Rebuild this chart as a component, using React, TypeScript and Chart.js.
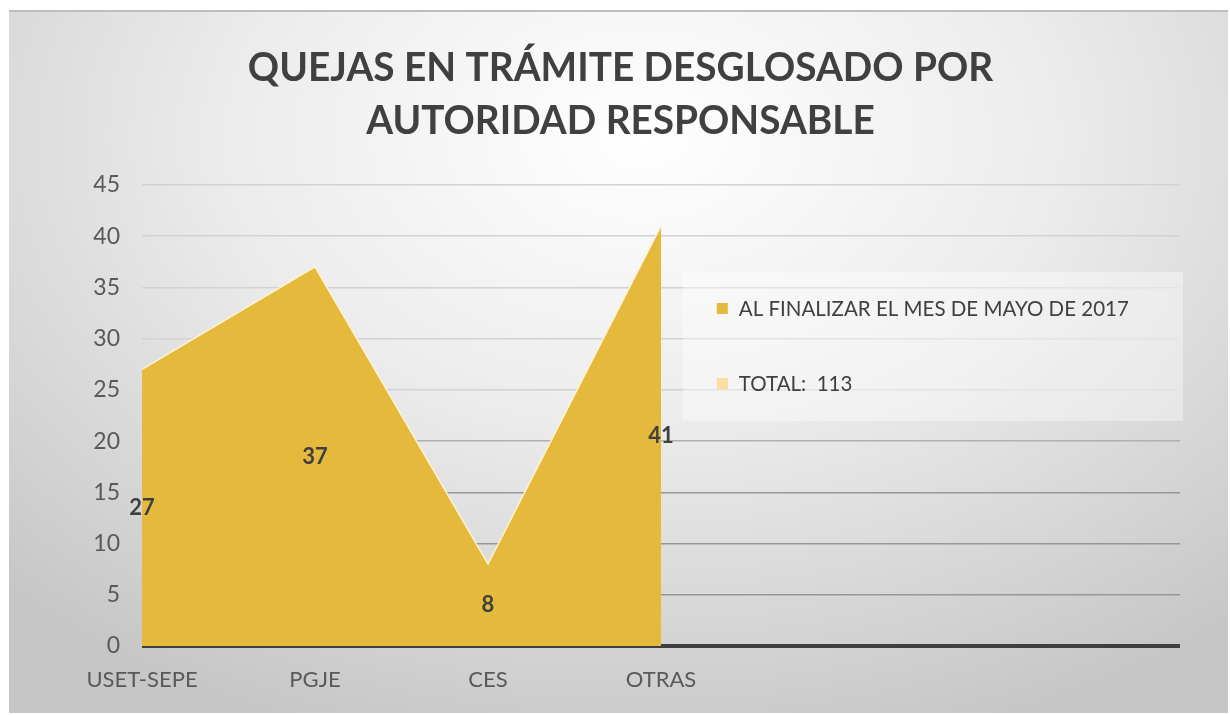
import React, { useEffect, useRef } from 'react';
import { Chart, registerables } from 'chart.js';

Chart.register(...registerables);

const categories = ['USET-SEPE', 'PGJE', 'CES', 'OTRAS', '', '', ''];
const quejas: (number | null)[] = [27, 37, 8, 41, null, null, null];
const totalSeries: (number | null)[] = [null, null, null, null, null, null, null];
const seriesLabel = 'AL FINALIZAR EL MES DE MAYO DE 2017';
const totalLabel = 'TOTAL:  113';
const titleLines = ['QUEJAS EN TRÁMITE DESGLOSADO POR', 'AUTORIDAD RESPONSABLE'];
const yMax = 45;
const yStep = 5;

const FONT = 'Lato, "Open Sans", sans-serif';
const GOLD = '#E5B93C';
const PEACH = '#FBDCA2';

const titlePlugin = {
  id: 'customTitle',
  afterDraw(chart: any) {
    const ctx = chart.ctx;
    ctx.save();
    ctx.fillStyle = '#404040';
    ctx.font = `bold 41px ${FONT}`;
    ctx.textAlign = 'center';
    ctx.textBaseline = 'middle';
    const cx = chart.width / 2 + 2;
    ctx.translate(cx, 0);
    ctx.scale(0.945, 1);
    ctx.fillText(titleLines[0], 0, 56);
    ctx.fillText(titleLines[1], 0, 109);
    ctx.restore();
  },
};

const dataLabelPlugin = {
  id: 'dataLabels',
  afterDatasetsDraw(chart: any) {
    const ctx = chart.ctx;
    const meta = chart.getDatasetMeta(0);
    const yScale = chart.scales.y;
    ctx.save();
    ctx.fillStyle = '#404040';
    ctx.font = `bold 22px ${FONT}`;
    ctx.textAlign = 'center';
    ctx.textBaseline = 'middle';
    meta.data.forEach((pt: any, i: number) => {
      const v = quejas[i];
      if (v == null) return;
      ctx.fillText(String(v), pt.x, yScale.getPixelForValue(v / 2));
    });
    ctx.restore();
  },
};

const legendPlugin = {
  id: 'boxLegend',
  afterDraw(chart: any) {
    const ctx = chart.ctx;
    const ca = chart.chartArea;
    const left = ca.left + (ca.right - ca.left) * 0.521;
    const right = ca.right + 3;
    const top = 260;
    const bottom = 409;
    ctx.save();
    ctx.fillStyle = 'rgba(255,255,255,0.38)';
    ctx.fillRect(left, top, right - left, bottom - top);
    const items = chart.data.datasets.map((d: any) => ({ label: d.label, color: d.legendColor }));
    ctx.font = `20.5px ${FONT}`;
    ctx.textBaseline = 'middle';
    ctx.textAlign = 'left';
    items.forEach((it: any, i: number) => {
      const y = 297 + i * 75;
      ctx.fillStyle = it.color;
      ctx.fillRect(left + 34, y - 6, 11, 11);
      ctx.fillStyle = '#404040';
      ctx.fillText(it.label, left + 56, y);
    });
    ctx.restore();
  },
};

function gridColor(v: number) {
  if (v === 0) return '#3f3f3f';
  if (v >= 25) return '#d2d2d2';
  if (v >= 20) return '#b0b0b0';
  return '#979797';
}

export default function App() {
  const canvasRef = useRef<HTMLCanvasElement | null>(null);

  useEffect(() => {
    if (!canvasRef.current) return;
    const chart = new Chart(canvasRef.current, {
      type: 'line',
      data: {
        labels: categories,
        datasets: [
          {
            label: seriesLabel,
            data: quejas,
            fill: 'origin',
            backgroundColor: GOLD,
            borderColor: '#FFF3D2',
            borderWidth: 1.5,
            pointRadius: 0,
            tension: 0,
            spanGaps: false,
            legendColor: GOLD,
          } as any,
          {
            label: totalLabel,
            data: totalSeries,
            fill: false,
            backgroundColor: PEACH,
            borderColor: PEACH,
            pointRadius: 0,
            legendColor: PEACH,
          } as any,
        ],
      },
      options: {
        animation: false,
        responsive: false,
        maintainAspectRatio: false,
        layout: { padding: { top: 173, bottom: 5, left: 0, right: 48 } },
        plugins: {
          legend: { display: false },
          title: { display: false },
          tooltip: { enabled: false },
        },
        scales: {
          x: {
            type: 'category',
            offset: false,
            grid: { display: false },
            border: { display: false },
            ticks: {
              color: '#595959',
              font: { family: FONT, size: 22 },
              padding: 13,
              maxRotation: 0,
              autoSkip: false,
            },
            afterFit(scale: any) {
              scale.height = 62;
            },
          },
          y: {
            min: 0,
            max: yMax,
            grid: {
              color: (c: any) => gridColor(c.tick.value),
              lineWidth: (c: any) => (c.tick.value === 0 ? 4 : 1.5),
              drawTicks: false,
            },
            border: { display: false },
            ticks: {
              stepSize: yStep,
              color: '#595959',
              font: { family: FONT, size: 23 },
              padding: 22,
            },
            afterFit(scale: any) {
              scale.width = 133;
            },
          },
        },
      } as any,
      plugins: [titlePlugin, dataLabelPlugin, legendPlugin],
    });
    return () => chart.destroy();
  }, []);

  return (
    <div
      style={{
        position: 'fixed',
        left: 9,
        top: 10,
        width: 1219,
        height: 703,
        background:
          'radial-gradient(ellipse 75% 90% at 52% 18%, #ffffff 0%, #ececec 45%, #d4d4d4 80%, #c6c6c6 100%)',
        borderTop: '2px solid #bdbdbd',
        boxSizing: 'border-box',
      }}
    >
      <canvas
        ref={canvasRef}
        width={1219}
        height={701}
        style={{ display: 'block', width: 1219, height: 701 }}
      />
    </div>
  );
}
